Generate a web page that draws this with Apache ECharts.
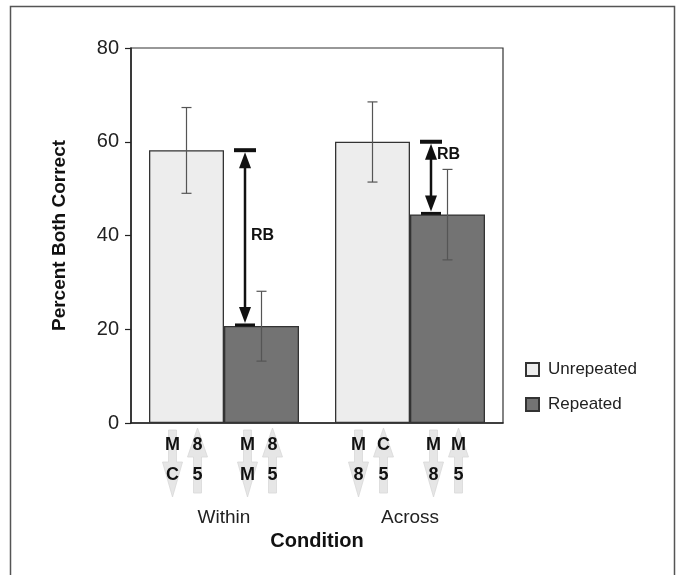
<!DOCTYPE html>
<html>
<head>
<meta charset="utf-8">
<script src="https://cdn.jsdelivr.net/npm/echarts@6/dist/echarts.min.js"></script>
<style>
  html, body { margin: 0; padding: 0; background: #fff; }
  #chart { width: 681px; height: 575px; }
</style>
</head>
<body>
<div id="chart"></div>
<script>
// data
const categories = ['Within', 'Across'];
const seriesNames = ['Unrepeated', 'Repeated'];
const unrepeated = [58.2, 60.0];
const repeated = [20.7, 44.5];
const unrepErrLow = [49.0, 51.4];
const unrepErrHigh = [67.3, 68.5];
const repErrLow = [13.2, 34.8];
const repErrHigh = [28.1, 54.1];
const yTicks = [0, 20, 40, 60, 80];
// where the "RB" text sits on the y scale
const rbLabelAt = [40.0, 57.3];
// stimulus letters under each bar, column by column: [top, bottom]
const stimUnrep = [[['M', 'C'], ['8', '5']], [['M', '8'], ['C', '5']]];
const stimRep = [[['M', 'M'], ['8', '5']], [['M', '8'], ['M', '5']]];

const FONT = '"Liberation Sans", Arial, Helvetica, sans-serif';
const INK = '#222';
const BAR_W = 75;

const chart = echarts.init(document.getElementById('chart'));

// error bars: one item per bar
const errItems = [];
categories.forEach((c, i) => {
  errItems.push([i, unrepErrLow[i], unrepErrHigh[i], -1]);
  errItems.push([i, repErrLow[i], repErrHigh[i], 1]);
});

function renderErr(params, api) {
  const d = errItems[params.dataIndex];
  const lo = api.coord([d[0], d[1]]);
  const hi = api.coord([d[0], d[2]]);
  const x = lo[0] + d[3] * BAR_W / 2;
  const st = { stroke: '#555', lineWidth: 1.2 };
  return {
    type: 'group',
    children: [
      { type: 'line', shape: { x1: x, y1: lo[1], x2: x, y2: hi[1] }, style: st },
      { type: 'line', shape: { x1: x - 5, y1: lo[1], x2: x + 5, y2: lo[1] }, style: st },
      { type: 'line', shape: { x1: x - 5, y1: hi[1], x2: x + 5, y2: hi[1] }, style: st }
    ]
  };
}

// RB double arrows between the two bars of a condition
function renderRB(params, api) {
  const i = params.dataIndex;
  const top = api.coord([i, unrepeated[i]]);
  const bot = api.coord([i, repeated[i]]);
  const lab = api.coord([i, rbLabelAt[i]]);
  const x = top[0] + 21;
  const t = top[1], b = bot[1];
  return {
    type: 'group',
    children: [
      { type: 'line', shape: { x1: x - 11, y1: t, x2: x + 11, y2: t }, style: { stroke: '#111', lineWidth: 4 } },
      { type: 'line', shape: { x1: x - 10, y1: b - 1, x2: x + 10, y2: b - 1 }, style: { stroke: '#111', lineWidth: 3 } },
      { type: 'line', shape: { x1: x, y1: t + 10, x2: x, y2: b - 10 }, style: { stroke: '#111', lineWidth: 2.5 } },
      { type: 'polygon', shape: { points: [[x, t + 2], [x - 6, t + 18], [x + 6, t + 18]] }, style: { fill: '#111' } },
      { type: 'polygon', shape: { points: [[x, b - 3], [x - 6, b - 19], [x + 6, b - 19]] }, style: { fill: '#111' } },
      {
        type: 'text', x: x + 6, y: lab[1],
        style: { text: 'RB', font: 'bold 16px ' + FONT, fill: '#111', verticalAlign: 'middle', align: 'left' }
      }
    ]
  };
}

// stimulus letters with faint arrows under each bar
const stimItems = [];
categories.forEach((c, i) => {
  stimItems.push([i, -1, stimUnrep[i]]);
  stimItems.push([i, 1, stimRep[i]]);
});

function renderStim(params, api) {
  const d = stimItems[params.dataIndex];
  const base = api.coord([d[0], 0]);
  const cx = base[0] + d[1] * BAR_W / 2;
  const y0 = base[1];
  const arrowStyle = { fill: '#e6e6e6', stroke: '#d8d8d8', lineWidth: 0.8 };
  const x1 = cx - 14, x2 = cx + 11;
  const children = [
    // down arrow under the first column
    { type: 'polygon', shape: { points: [
      [x1 - 4, y0 + 7], [x1 + 4, y0 + 7], [x1 + 4, y0 + 39], [x1 + 10, y0 + 39],
      [x1, y0 + 74], [x1 - 10, y0 + 39], [x1 - 4, y0 + 39]
    ] }, style: arrowStyle },
    // up arrow under the second column
    { type: 'polygon', shape: { points: [
      [x2, y0 + 5], [x2 + 10, y0 + 34], [x2 + 4, y0 + 34], [x2 + 4, y0 + 70],
      [x2 - 4, y0 + 70], [x2 - 4, y0 + 34], [x2 - 10, y0 + 34]
    ] }, style: arrowStyle }
  ];
  [x1, x2].forEach((x, k) => {
    children.push({ type: 'text', x: x, y: y0 + 22, style: { text: d[2][k][0], font: 'bold 18px ' + FONT, fill: '#111', align: 'center', verticalAlign: 'middle' } });
    children.push({ type: 'text', x: x, y: y0 + 52, style: { text: d[2][k][1], font: 'bold 18px ' + FONT, fill: '#111', align: 'center', verticalAlign: 'middle' } });
  });
  return { type: 'group', children: children };
}

const option = {
  backgroundColor: '#fff',
  animation: false,
  textStyle: { fontFamily: FONT },
  graphic: [
    { type: 'rect', shape: { x: 10.5, y: 6.5, width: 664, height: 600 }, style: { fill: 'none', stroke: '#555', lineWidth: 1.5 }, z: -1 }
  ],
  grid: {
    left: 131, right: 178, top: 48, bottom: 152,
    show: true, borderColor: '#333', borderWidth: 1.2
  },
  legend: {
    orient: 'vertical',
    left: 520, top: 356,
    itemWidth: 13, itemHeight: 13, itemGap: 18,
    icon: 'rect',
    textStyle: { fontSize: 17, color: INK, fontFamily: FONT, padding: [0, 0, 0, 4] },
    data: seriesNames
  },
  xAxis: {
    type: 'category',
    data: categories,
    name: 'Condition',
    nameLocation: 'middle',
    nameGap: 108,
    nameTextStyle: { fontSize: 20, fontWeight: 'bold', color: '#111', fontFamily: FONT },
    axisLine: { lineStyle: { color: '#222', width: 1.5 } },
    axisTick: { alignWithLabel: true, length: 9, lineStyle: { color: '#222', width: 1.2 } },
    axisLabel: { margin: 85, fontSize: 19, color: INK, fontFamily: FONT }
  },
  yAxis: {
    type: 'value',
    min: 0, max: 80, interval: 20,
    name: 'Percent Both Correct',
    nameLocation: 'middle',
    nameGap: 62,
    nameTextStyle: { fontSize: 19, fontWeight: 'bold', color: '#111', fontFamily: FONT },
    splitLine: { show: false },
    axisLine: { show: true, lineStyle: { color: '#222', width: 1.5 } },
    axisTick: { show: true, length: 6, lineStyle: { color: '#222', width: 1.2 } },
    axisLabel: { margin: 12, fontSize: 20, color: INK, fontFamily: FONT,
      formatter: v => (yTicks.indexOf(v) >= 0 ? String(v) : '') }
  },
  series: [
    {
      name: seriesNames[0], type: 'bar', data: unrepeated,
      barWidth: BAR_W, barGap: '0%',
      itemStyle: { color: '#ededed', borderColor: '#333', borderWidth: 1.3 }
    },
    {
      name: seriesNames[1], type: 'bar', data: repeated,
      barWidth: BAR_W, barGap: '0%',
      itemStyle: { color: '#737373', borderColor: '#333', borderWidth: 1.3 }
    },
    {
      type: 'custom', name: 'err', renderItem: renderErr, clip: false, z: 5,
      data: errItems.map(d => [d[0], d[2]])
    },
    {
      type: 'custom', name: 'rb', renderItem: renderRB, clip: false, z: 6,
      data: categories.map((c, i) => [i, unrepeated[i]])
    },
    {
      type: 'custom', name: 'stim', renderItem: renderStim, clip: false, z: 4,
      data: stimItems.map(d => [d[0], 0])
    }
  ]
};

chart.setOption(option);
</script>
</body>
</html>
